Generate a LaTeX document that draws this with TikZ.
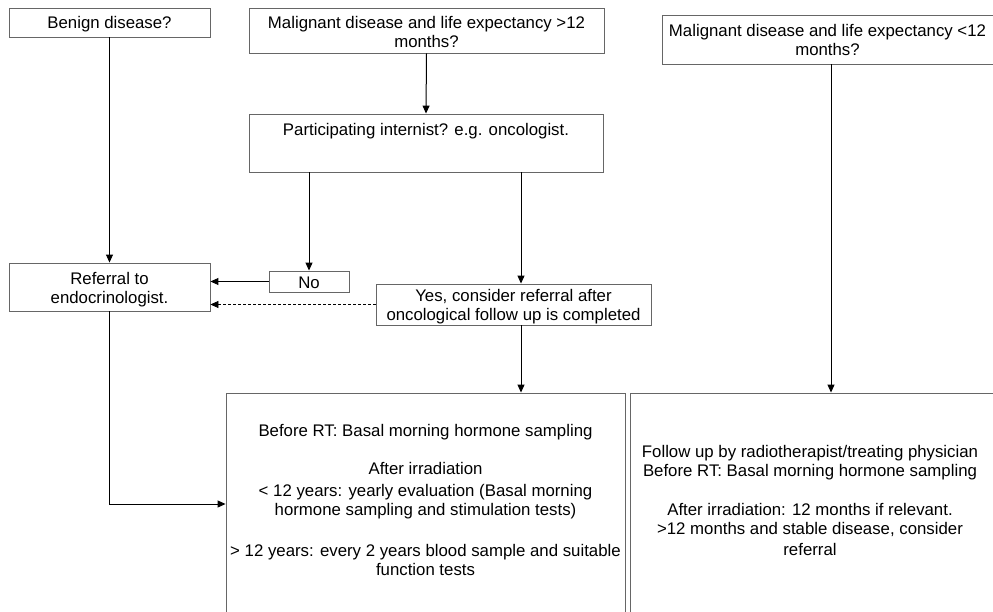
\documentclass[tikz,border=0pt]{standalone}
\usepackage{fontspec}
\setmainfont{Liberation Sans}
\usetikzlibrary{arrows.meta}
\begin{document}
\begin{tikzpicture}[x=1pt,y=-1pt,
  box/.style={draw=black!60,line width=0.9pt,rectangle,inner sep=0pt,align=center,fill=white},
  txt/.style={inner sep=0pt,align=center},
  conn/.style={line width=1pt,-{Triangle[length=8pt,width=7pt]}},
  font=\fontsize{16.8}{19}\selectfont]
\useasboundingbox (0,0) rectangle (993,612);
\clip (0,0) rectangle (993,612);
% boxes
\node[box,minimum width=201,minimum height=29] (benign) at (109.5,22.5) {};
\node[txt] (benigntxt) at (109.5,24) {Benign disease?};
\node[box,minimum width=355,minimum height=45] (mal1) at (426.5,30.5) {};
\node[txt] (mal1txt) at (426.5,31.5) {Malignant disease and life expectancy >12\\months?};
\node[box,minimum width=331,minimum height=49] (mal2) at (827.5,39.5) {};
\node[txt] (mal2txt) at (827.5,40) {Malignant disease and life expectancy <12\\months?};
\node[box,minimum width=354,minimum height=58] (part) at (426,143) {};
\node[txt] (parttxt) at (426,131) {Participating internist? e.g. oncologist.};
\node[box,minimum width=201,minimum height=48] (ref) at (109.5,287) {};
\node[txt] (reftxt) at (109.5,290) {Referral to\\endocrinologist.};
\node[box,minimum width=80,minimum height=21] (no) at (309,281.5) {};
\node[txt] (notxt) at (309,283) {No};
\node[box,minimum width=275,minimum height=41] (yes) at (513.5,304.5) {};
\node[txt] (yestxt) at (513.5,306.5) {Yes, consider referral after\\oncological follow up is completed};
\node[box,minimum width=399,minimum height=222] (bl) at (425.5,504) {};
\node[box,minimum width=363,minimum height=222] (br) at (811.5,504) {};
\node[txt] (bltxt) at (425.5,499.5) {Before RT: Basal morning hormone sampling\\[19pt]After irradiation\\[3pt]%
< 12 years: yearly evaluation (Basal morning\\hormone sampling and stimulation tests)\\[22pt]%
> 12 years: every 2 years blood sample and suitable\\function tests};
\node[txt] (brtxt) at (810,500) {Follow up by radiotherapist/treating physician\\Before RT: Basal morning hormone sampling\\[20pt]%
After irradiation: 12 months if relevant.\\>12 months and stable disease, consider\\[2pt]referral};
% helper coordinates
\coordinate (yx) at (521,0);
\coordinate (rx) at (831,0);
% connectors
\draw[conn] (benign.south) -- (ref.north);
\draw[conn] (mal1.south) -- (part.north);
\draw[conn] (part.south -| no.north) -- (no.north);
\draw[conn] (part.south -| yx) -- (yes.north -| yx);
\draw[conn] (no.west) -- (ref.east |- no.west);
\draw[conn,line width=0.7pt,dash pattern=on 3pt off 2pt] (yes.west) -- (ref.east |- yes.west);
\draw[conn] (yes.south -| yx) -- (bl.north -| yx);
\draw[conn] (mal2.south -| rx) -- (br.north -| rx);
\draw[conn] (ref.south) |- (bl.west);
\end{tikzpicture}
\end{document}
